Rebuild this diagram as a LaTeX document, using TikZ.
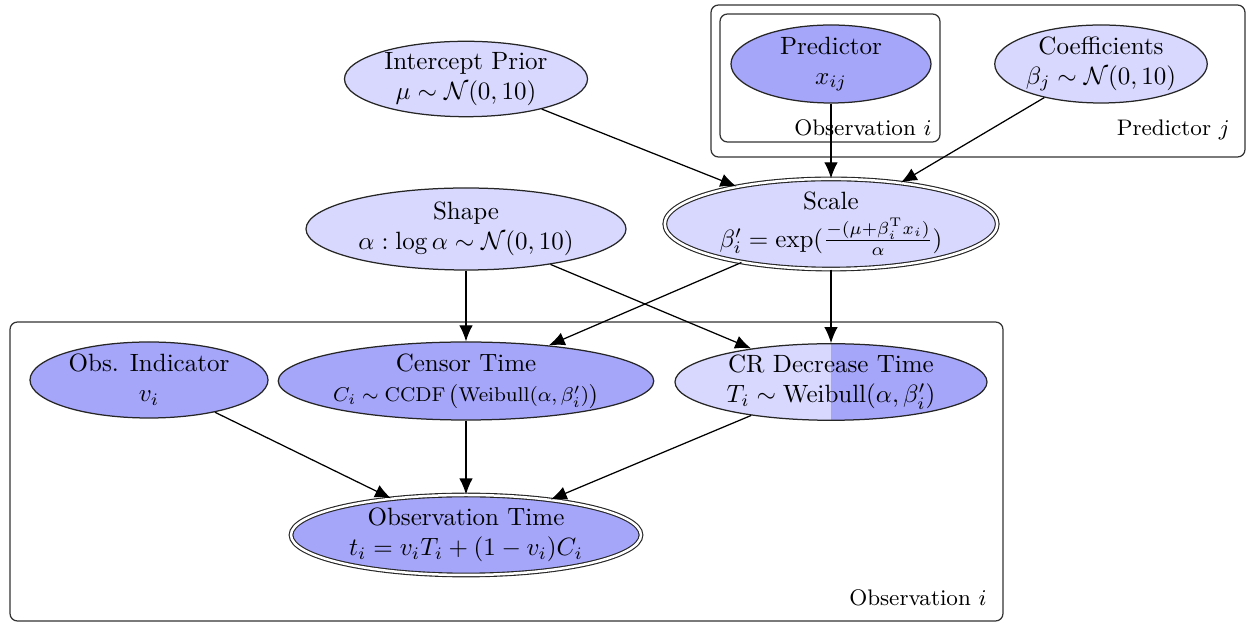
\documentclass[tikz,border=0pt]{standalone}
\usepackage{amsmath,amssymb}
\usetikzlibrary{shapes.geometric,arrows.meta}
\definecolor{lightfill}{RGB}{216,216,255}
\definecolor{darkfill}{RGB}{165,165,250}
\begin{document}
\begin{tikzpicture}[x=0.4pt,y=-0.4pt,
  var/.style={ellipse,draw=black!85,line width=0.5pt,inner sep=0pt,align=center},
  lt/.style={var,fill=lightfill},
  dk/.style={var,fill=darkfill},
  dbl/.style={double=white,double distance=1pt,line width=0.45pt},
  plate/.style={draw=black!80,rounded corners=3pt,line width=0.5pt},
  plabel/.style={anchor=base east,font=\small,inner sep=0pt},
  conn/.style={-{Latex[length=6.4pt,width=5.4pt]},line width=0.5pt}
]
\useasboundingbox (0,0) rectangle (1247,624);

% plates
\draw[plate] (711,5) rectangle (1245,157);
\draw[plate] (720,14) rectangle (940,142);
\draw[plate] (10,322) rectangle (1003,621);
\node[plabel] (lblobsA) at (932,136) {Observation $i$};
\node[plabel] (lblpredj) at (1230,136) {Predictor $j$};
\node[plabel] (lblobsB) at (987,606) {Observation $i$};

% nodes
\node[lt,minimum width=97.2pt,minimum height=27.2pt] (ip) at (466,79)
  {Intercept Prior\\$\mu\sim\mathcal{N}(0,10)$};
\node[dk,minimum width=80pt,minimum height=31.2pt] (pred) at (831,64)
  {Predictor\\$x_{ij}$};
\node[lt,minimum width=78.8pt,minimum height=31.2pt] (coef) at (1101,64)
  {Coefficients\\$\beta_j\sim\mathcal{N}(0,10)$};
\node[lt,dbl,minimum width=133pt,minimum height=36pt] (scale) at (831,224)
  {Scale\\[3pt]$\beta'_i=\exp(\frac{-(\mu+\beta_i^{\mathrm{T}}x_i)}{\alpha})$};
\node[lt,minimum width=128pt,minimum height=32.8pt] (shape) at (466,229)
  {Shape\\$\alpha:\log\alpha\sim\mathcal{N}(0,10)$};
\node[dk,minimum width=95.2pt,minimum height=30.4pt] (obsind) at (149,380)
  {Obs. Indicator\\$v_i$};
\node[dk,minimum width=148.8pt,minimum height=31.2pt] (censor) at (466,381)
  {Censor Time\\{\footnotesize$C_i\sim\mathrm{CCDF}\,\bigl(\mathrm{Weibull}(\alpha,\beta'_i)\bigr)$}};
\node[lt,minimum width=124.8pt,minimum height=30.4pt,
  path picture={\fill[darkfill] (path picture bounding box.north) rectangle (path picture bounding box.south east);}]
  (cr) at (831,382)
  {CR Decrease Time\\$T_i\sim\mathrm{Weibull}(\alpha,\beta'_i)$};
\node[dk,dbl,minimum width=140pt,minimum height=32pt] (obst) at (466,535)
  {Observation Time\\$t_i=v_iT_i+(1-v_i)C_i$};

% connectors
\draw[conn] (ip) -- (scale);
\draw[conn] (pred) -- (scale);
\draw[conn] (coef) -- (scale);
\draw[conn] (shape) -- (censor);
\draw[conn] (shape) -- (cr);
\draw[conn] (scale) -- (censor);
\draw[conn] (scale) -- (cr);
\draw[conn] (obsind) -- (obst);
\draw[conn] (censor) -- (obst);
\draw[conn] (cr) -- (obst);
\end{tikzpicture}
\end{document}
